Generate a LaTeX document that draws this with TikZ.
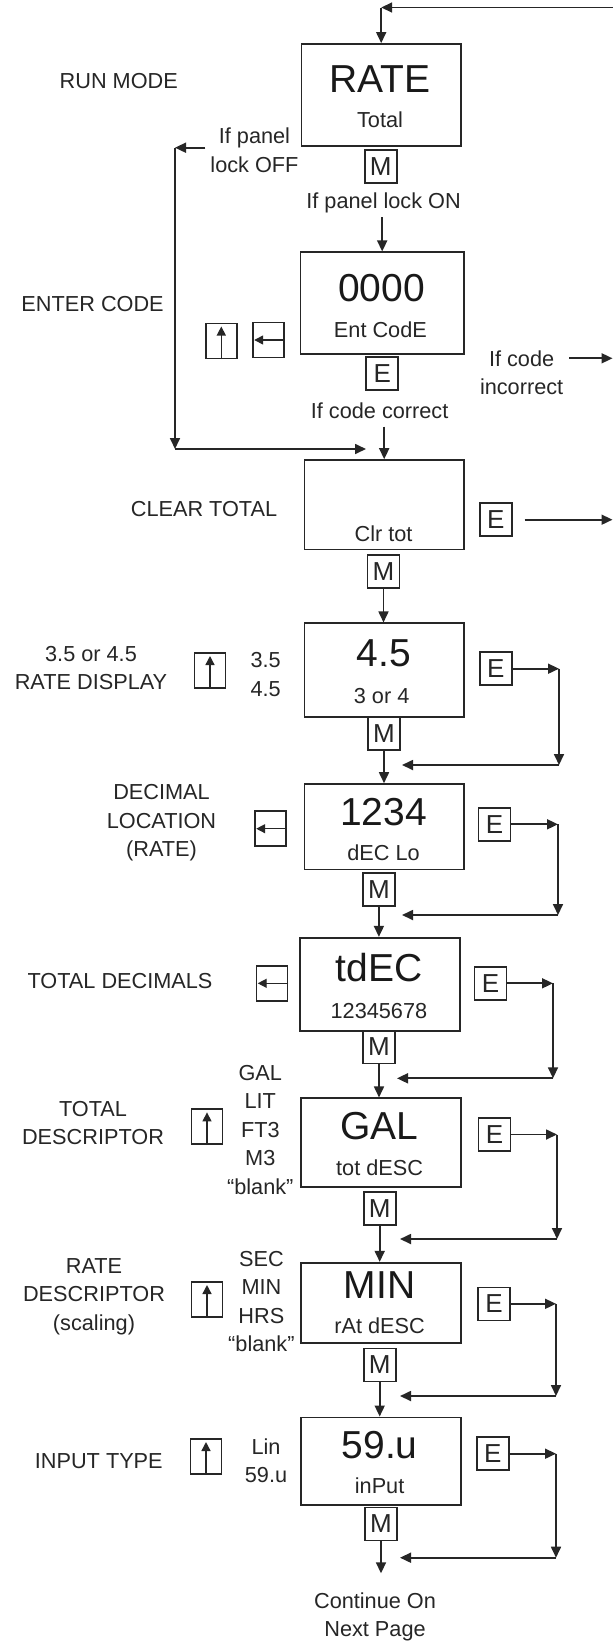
\documentclass[tikz,border=0pt]{standalone}
\usepackage{fontspec}
\setmainfont{Liberation Sans}
\usetikzlibrary{arrows.meta}
\begin{document}
\begin{tikzpicture}[x=1pt,y=-1pt,
  ln/.style={line width=1.7pt, draw=black!85},
  arr/.style={ln, -{Triangle[length=11pt,width=10pt]}},
  karr/.style={line width=1.4pt, draw=black!85, -{Triangle[length=9pt,width=9pt]}},
  disp/.style={draw=black!85, line width=1.7pt, inner sep=0pt},
  key/.style={draw=black!85, line width=1.6pt, minimum width=32pt, minimum height=33pt, inner sep=0pt, font=\fontsize{26}{30}\selectfont, text=black!85},
  akey/.style={draw=black!85, line width=1.6pt, minimum width=31pt, minimum height=35pt, inner sep=0pt},
  lbl/.style={font=\fontsize{21.7}{28.5}\selectfont, text=black!85, inner sep=0pt, align=center},
  bl/.style={lbl, anchor=base},
  big/.style={font=\fontsize{39}{46}\selectfont, text=black!90, inner sep=0pt, anchor=base},
]
\fill[white] (0,0) rectangle (613,1644);
\useasboundingbox (0,0) rectangle (613,1644);

% ---------- display boxes ----------
\node[disp, minimum width=159.6pt, minimum height=101.7pt] (rate) at (381.2,94.8) {};
\node[big] (rateT) at (379.6,92.7) {RATE};
\node[bl] (rateS) at (380,127.3) {Total};

\node[disp, minimum width=163.2pt, minimum height=102pt] (code) at (382.2,303.3) {};
\node[big] (codeT) at (381.6,301.7) {0000};
\node[bl] (codeS) at (380.4,337.3) {Ent CodE};

\node[disp, minimum width=159.3pt, minimum height=89.3pt] (clr) at (384.2,504.7) {};
\node[bl] (clrS) at (383.6,541) {Clr tot};

\node[disp, minimum width=159.3pt, minimum height=93.4pt] (dig) at (384.2,670) {};
\node[big] (digT) at (383.6,666.7) {4.5};
\node[bl] (digS) at (381.6,703.3) {3 or 4};

\node[disp, minimum width=159.3pt, minimum height=85.3pt] (dec) at (384.2,826.7) {};
\node[big] (decT) at (383.6,825) {1234};
\node[bl] (decS) at (383.6,860) {dEC Lo};

\node[disp, minimum width=159.7pt, minimum height=93pt] (tdec) at (380,984.2) {};
\node[big] (tdecT) at (378.9,981.7) {tdEC};
\node[bl] (tdecS) at (378.9,1018.3) {12345678};

\node[disp, minimum width=160.1pt, minimum height=89pt] (tot) at (380.7,1142.8) {};
\node[big] (totT) at (379.6,1139.3) {GAL};
\node[bl] (totS) at (379.6,1175) {tot dESC};

\node[disp, minimum width=160.1pt, minimum height=80pt] (rat) at (380.7,1302.7) {};
\node[big] (ratT) at (379.6,1298.3) {MIN};
\node[bl] (ratS) at (379.6,1333.3) {rAt dESC};

\node[disp, minimum width=160.1pt, minimum height=87.7pt] (inp) at (380.7,1461.2) {};
\node[big] (inpT) at (379.6,1458.3) {59.u};
\node[bl] (inpS) at (379.6,1493) {inPut};

% ---------- keys ----------
\node[key] (m1) at (380.8,166.3) {M};
\node[key] (e2) at (382.2,373.7) {E};
\node[key] (e3) at (495.8,519.7) {E};
\node[key] (m3) at (383.5,571.7) {M};
\node[key] (e4) at (495.8,668.7) {E};
\node[key] (m4) at (384,733.3) {M};
\node[key] (e5) at (494.6,824.3) {E};
\node[key] (m5) at (378.9,889.3) {M};
\node[key] (e6) at (490.6,983.3) {E};
\node[key] (m6) at (379,1046.8) {M};
\node[key] (e7) at (494.6,1134.5) {E};
\node[key] (m7) at (379.7,1208.3) {M};
\node[key] (e8) at (494,1303.8) {E};
\node[key] (m8) at (379.7,1365) {M};
\node[key] (e9) at (492.8,1453.7) {E};
\node[key] (m9) at (381,1524) {M};

% arrow keys
\node[akey] (u2) at (221.3,340.8) {};
\node[akey] (l2) at (268.5,340) {};
\node[akey] (u4) at (210,670.3) {};
\node[akey] (l5) at (270.5,828.7) {};
\node[akey] (l6) at (272,983.3) {};
\node[akey] (u7) at (207,1126.7) {};
\node[akey] (u8) at (207,1299.3) {};
\node[akey] (u9) at (206,1456.3) {};
\foreach \k in {u2,u4,u7,u8,u9}{
  \draw[karr] (\k.south) -- ([yshift=-4pt]\k.north);
}
\foreach \k in {l2,l5,l6}{
  \draw[karr] (\k.east) -- ([xshift=2pt]\k.west);
}

% ---------- left labels ----------
\node[bl] (runmode) at (118.8,88.3) {RUN MODE};
\node[bl] (entcode) at (92.6,311.7) {ENTER CODE};
\node[bl] (clrtotal) at (204,516) {CLEAR TOTAL};
\node[lbl] (ratedisp) at (91,668) {3.5 or 4.5\\RATE DISPLAY};
\node[lbl] (decloc) at (161.5,823) {DECIMAL\\LOCATION\\(RATE)};
\node[bl] (totdec) at (120,988.3) {TOTAL DECIMALS};
\node[lbl] (totdesc) at (93,1123) {TOTAL\\DESCRIPTOR};
\node[lbl] (ratdesc) at (94,1296.4) {RATE\\DESCRIPTOR\\(scaling)};
\node[bl] (inptype) at (98.8,1468.3) {INPUT TYPE};

% option lists
\node[lbl] (o4) at (265.6,674.7) {3.5\\4.5};
\node[lbl] (o7) at (260.3,1129.8) {GAL\\LIT\\FT3\\M3\\“blank”};
\node[lbl] (o8) at (261.4,1301.5) {SEC\\MIN\\HRS\\“blank”};
\node[lbl] (o9) at (266,1460.8) {Lin\\59.u};

% condition labels
\node[lbl] (lockoff) at (254.5,150) {If panel\\lock OFF};
\node[bl] (lockon) at (383.6,208.3) {If panel lock ON};
\node[bl] (correct) at (379.6,418.3) {If code correct};
\node[lbl] (incorrect) at (521.6,372.5) {If code\\incorrect};
\node[lbl] (cont) at (375,1617) {Continue On\\Next Page};

% ---------- connectors ----------
\coordinate (topR) at (613,7.5);
\coordinate (topC) at (381.2,7.5);
\draw[arr] (topR) -- (topC);
\draw[arr] (topC) -- (rate.north);

\draw[arr, shorten <=4pt] (lockon.south -| code.north) -- (code.north);

\coordinate (offA) at (175,147.7);
\coordinate (offB) at (175,449);
\coordinate (offC) at (366,449);
\draw[arr, shorten <=5pt] (lockoff.west |- offA) -- (offA);
\draw[arr] (offA) -- (offB);
\draw[arr] (offB) -- (offC);

\draw[arr, shorten <=8pt] (correct.south -| clr.north) -- (clr.north);

\coordinate (incR) at (612.5,358.3);
\draw[arr, shorten <=6pt] (incorrect.east |- incR) -- (incR);

\coordinate (e3R) at (612.5,519.7);
\draw[arr, shorten <=12pt] (e3.east) -- (e3R);

\draw[arr] (m3.south) -- (m3.south |- dig.north);
\draw[arr] (m4.south) -- (m4.south |- dec.north);
\draw[arr] (m5.south) -- (m5.south |- tdec.north);
\draw[arr] (m6.south) -- (m6.south |- tot.north);
\draw[arr] (m7.south) -- (m7.south |- rat.north);
\draw[arr] (m8.south) -- (m8.south |- inp.north);
\coordinate (contA) at (381,1573.3);
\draw[arr] (m9.south) -- (contA);

% E loops
\coordinate (e4a) at (559,668.7);  \coordinate (e4b) at (559,765);    \coordinate (e4c) at (402,765);
\coordinate (e5a) at (558,824.3);  \coordinate (e5b) at (558,915);    \coordinate (e5c) at (402,915);
\coordinate (e6a) at (553,983.3);  \coordinate (e6b) at (553,1078.3); \coordinate (e6c) at (397,1078.3);
\coordinate (e7a) at (557,1134.5); \coordinate (e7b) at (557,1239);   \coordinate (e7c) at (400,1239);
\coordinate (e8a) at (556,1303.8); \coordinate (e8b) at (556,1396);   \coordinate (e8c) at (400,1396);
\coordinate (e9a) at (556,1453.7); \coordinate (e9b) at (556,1557.7); \coordinate (e9c) at (400,1557.7);
\foreach \e in {e4,e5,e6,e7,e8,e9}{
  \draw[arr] (\e.east) -- (\e a);
  \draw[arr] (\e a) -- (\e b);
  \draw[arr] (\e b) -- (\e c);
}
\end{tikzpicture}
\end{document}
